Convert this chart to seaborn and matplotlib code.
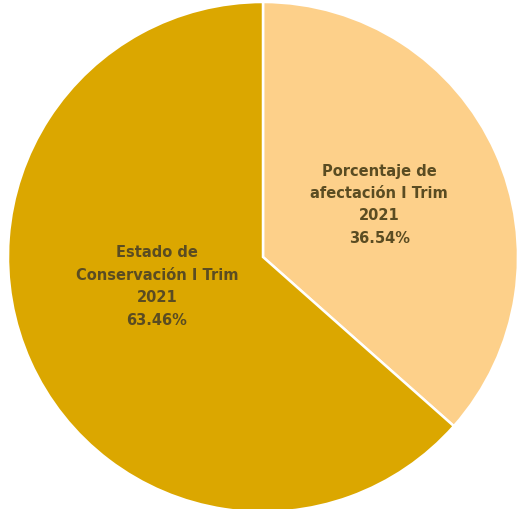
import numpy as np
import seaborn as sns
import matplotlib.pyplot as plt

# Data
categories = ['Porcentaje de\nafectación I Trim\n2021', 'Estado de\nConservación I Trim\n2021']
values = [36.54, 63.46]
colors = ['#FDD08A', '#DBA700']

sns.set_theme(style='white')
plt.rcParams['font.family'] = ['DejaVu Sans']

fig = plt.figure(figsize=(5.17, 5.09), dpi=100)
ax = fig.add_axes([0, 0, 1, 1])

wedges, texts, autotexts = ax.pie(
    values, colors=colors, startangle=90, counterclock=False,
    autopct='%.2f%%', pctdistance=0.5,
    wedgeprops=dict(edgecolor='white', linewidth=1.8),
)

# put the category name above the percentage in each slice
shifts = [(0.0, 0.0), (0.04, 0.09)]
for t, lab, (dx, dy) in zip(autotexts, categories, shifts):
    x, y = t.get_position()
    t.set_position((x + dx, y + dy))
    t.set_text(lab + '\n' + t.get_text())
    t.set_fontsize(10.5)
    t.set_fontweight('bold')
    t.set_color('#5a4c22')
    t.set_ha('center')
    t.set_va('center')
    t.set_linespacing(1.62)

ax.set_xlim(-263 / 255, 254 / 255)
ax.set_ylim(-252 / 255, 257 / 255)
ax.set_aspect('auto')
ax.axis('off')

fig.savefig('out.png', dpi=100, facecolor='white')
